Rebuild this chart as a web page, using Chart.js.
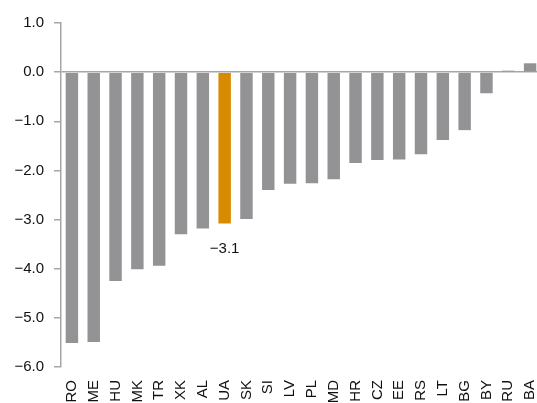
<!DOCTYPE html>
<html>
<head>
<meta charset="utf-8">
<script src="https://cdn.jsdelivr.net/npm/chart.js@4"></script>
<style>
  html, body { margin: 0; padding: 0; background: #fff; overflow: hidden; }
  #wrap { width: 541px; height: 403px; }
</style>
</head>
<body>
<div id="wrap"><canvas id="chart"></canvas></div>
<script>
// Country codes, left to right
const countries = ['RO', 'ME', 'HU', 'MK', 'TR', 'XK', 'AL', 'UA', 'SK', 'SI', 'LV',
                   'PL', 'MD', 'HR', 'CZ', 'EE', 'RS', 'LT', 'BG', 'BY', 'RU', 'BA'];
// Values
const values = [-5.51, -5.49, -4.25, -4.01, -3.94, -3.30, -3.18, -3.08, -2.99, -2.40, -2.27,
                -2.26, -2.18, -1.85, -1.79, -1.78, -1.67, -1.38, -1.18, -0.43, 0.03, 0.18];
const highlight = 'UA';
const yTicks = [1, 0, -1, -2, -3, -4, -5, -6];

const GREY = '#939396';
const ORANGE = '#d88a00';
const AXIS = '#a6a6a6';

const barColors = countries.map(c => c === highlight ? ORANGE : GREY);

// one decimal, typographic minus sign
const fmt = v => v.toFixed(1).replace('-', '\u2212');

// value label under the highlighted bar
const highlightLabel = {
  id: 'highlightLabel',
  afterDatasetsDraw(chart) {
    const { ctx } = chart;
    const meta = chart.getDatasetMeta(0);
    const i = countries.indexOf(highlight);
    const bar = meta.data[i];
    if (!bar) return;
    ctx.save();
    ctx.font = '15px "Liberation Sans", Arial, sans-serif';
    ctx.fillStyle = '#111';
    ctx.textAlign = 'center';
    ctx.textBaseline = 'middle';
    ctx.fillText(fmt(values[i]), bar.x, bar.y + 25);
    ctx.restore();
  },
};

Chart.defaults.font.family = '"Liberation Sans", Arial, sans-serif';
Chart.defaults.font.size = 15;
Chart.defaults.color = '#111';

new Chart(document.getElementById('chart'), {
  type: 'bar',
  data: {
    labels: countries,
    datasets: [{
      data: values,
      backgroundColor: barColors,
      borderWidth: 0,
      barPercentage: 0.57,
      categoryPercentage: 1,
    }],
  },
  options: {
    responsive: true,
    maintainAspectRatio: false,
    animation: false,
    layout: { padding: { top: 23, right: 0, bottom: 0, left: 0 } },
    plugins: { legend: { display: false }, tooltip: { enabled: false } },
    scales: {
      x: {
        // labels run off the bottom edge, as in the source image
        afterFit(scale) {
          scale.height = 36;
          scale.paddingLeft = 0;
          scale.paddingRight = 0;
        },
        grid: { display: false, drawTicks: false },
        border: { display: false },
        ticks: { minRotation: 90, maxRotation: 90, autoSkip: false, padding: 13 },
      },
      y: {
        min: -6,
        max: 1,
        afterFit(scale) { scale.width = 61; },
        afterBuildTicks(scale) { scale.ticks = yTicks.map(v => ({ value: v })); },
        ticks: {
          padding: 10,
          callback: v => fmt(v),
        },
        grid: {
          drawOnChartArea: true,
          color: ctx => (ctx.tick && ctx.tick.value === 0 ? AXIS : 'rgba(0,0,0,0)'),
          lineWidth: 1.5,
          tickColor: AXIS,
          tickLength: 7,
        },
        border: { display: true, color: AXIS, width: 1.5 },
      },
    },
  },
  plugins: [highlightLabel],
});
</script>
</body>
</html>
